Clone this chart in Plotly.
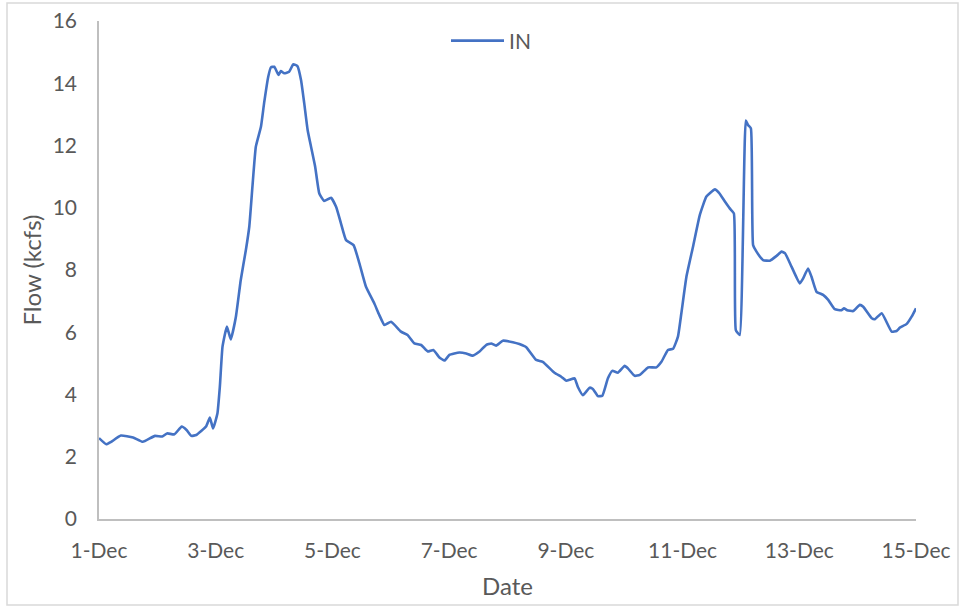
import datetime as dt
import plotly.graph_objects as go

# hours since 1-Dec 00:00 and flow (kcfs)
hours = [0, 3, 5, 9, 14, 18, 23, 26, 28, 31, 34, 36, 38, 40, 44, 45.6, 46.9, 48.7, 49.7, 50.8,
         52.6, 54.2, 56.3, 58.3, 60.4, 61.8, 63.1, 64.5, 66.6, 67.9, 69.6, 70.7, 72.1, 73.8, 74.8,
         76.2, 78.2, 79.9, 81.6, 83.1, 84.4, 85.8, 87.2, 88.9, 90.6, 92.6, 95.4, 97.5, 99.5, 101.6,
         104.7, 107.1, 109.8, 113.2, 115.3, 117.4, 120.1, 124.2, 126.9, 129.7, 132.5, 135.2, 137.5,
         140.0, 142.1, 144.1, 148.2, 151.0, 153.7, 156.5, 159.2, 161.3, 163.3, 166.1, 170.2, 172.9,
         175.7, 179.8, 182.5, 187.3, 190.1, 192.2, 193.5, 195.6, 196.9, 199.0, 201.8, 203.1, 205.2,
         207.0, 209.3, 211.1, 213.4, 216.2, 217.5, 220.3, 222.4, 225.8, 229.2, 231.3, 234.0, 236.1,
         238.1, 239.5, 241.6, 244.3, 247.1, 249.8, 253.3, 255.0, 257.4, 259.4, 261.1, 261.9, 263.5,
         266.0, 266.9, 268.1, 269.0, 270.4, 273.1, 275.9, 278.6, 280.7, 282.1, 284.8, 288.2, 289.6,
         291.6, 293.0, 295.1, 297.8, 299.9, 302.6, 305.4, 306.4, 307.7, 310.2, 312.9, 314.3, 317.8,
         319.1, 321.9, 326.0, 328.0, 329.4, 332.2, 334.2, 336.0]
flow_in = [2.60, 2.40, 2.48, 2.68, 2.62, 2.48, 2.67, 2.65, 2.75, 2.72, 2.97, 2.86, 2.67, 2.70, 2.97,
           3.26, 2.91, 3.39, 4.25, 5.54, 6.18, 5.77, 6.50, 7.68, 8.64, 9.39, 10.68, 11.96, 12.60,
           13.36, 14.21, 14.51, 14.53, 14.27, 14.39, 14.32, 14.37, 14.61, 14.55, 14.10, 13.36, 12.50,
           11.96, 11.32, 10.46, 10.22, 10.32, 10.03, 9.50, 8.96, 8.80, 8.21, 7.46, 6.93, 6.55, 6.23,
           6.34, 6.02, 5.91, 5.64, 5.59, 5.38, 5.43, 5.19, 5.09, 5.27, 5.35, 5.32, 5.25, 5.38, 5.59,
           5.64, 5.57, 5.73, 5.68, 5.62, 5.52, 5.11, 5.05, 4.70, 4.57, 4.44, 4.47, 4.52, 4.25, 3.98,
           4.22, 4.18, 3.95, 3.96, 4.52, 4.76, 4.70, 4.92, 4.84, 4.60, 4.63, 4.87, 4.87, 5.05, 5.43,
           5.47, 5.86, 6.61, 7.79, 8.75, 9.77, 10.36, 10.59, 10.48, 10.20, 9.98, 9.82, 6.07, 5.91,
           12.80, 12.66, 12.55, 8.80, 8.59, 8.32, 8.30, 8.45, 8.59, 8.54, 8.11, 7.57, 7.73, 8.05,
           7.79, 7.30, 7.20, 7.04, 6.74, 6.71, 6.77, 6.71, 6.68, 6.88, 6.82, 6.45, 6.42, 6.61, 6.02,
           6.04, 6.15, 6.27, 6.50, 6.77]

tick_days = [1, 3, 5, 7, 9, 11, 13, 15]
tick_labels = [f"{d}-Dec" for d in tick_days]
y_ticks = [0, 2, 4, 6, 8, 10, 12, 14, 16]

base = dt.datetime(2021, 12, 1)
times = [base + dt.timedelta(hours=h) for h in hours]
tick_vals = [dt.datetime(2021, 12, d) for d in tick_days]

FONT = "Lato, 'Open Sans', sans-serif"
GREY = "#595959"

fig = go.Figure()
fig.add_trace(go.Scatter(x=times, y=flow_in, mode="lines", name="IN",
                         line=dict(color="#4472C4", width=2.6, shape="spline", smoothing=0.4)))

W, H = 960, 608
L, R, T, B = 99, 44, 21, 89
pw, ph = W - L - R, H - T - B

def px(x):
    return (x - L) / pw

def py(y):
    return (H - B - y) / ph

fig.update_layout(
    width=W, height=H,
    margin=dict(l=L, r=R, t=T, b=B, autoexpand=False),
    paper_bgcolor="white", plot_bgcolor="white",
    font=dict(family=FONT, color=GREY, size=21),
    showlegend=True,
    legend=dict(orientation="h", x=px(446), y=py(41), xanchor="left", yanchor="middle",
                itemwidth=53, font=dict(size=21, color=GREY), bgcolor="rgba(0,0,0,0)"),
    xaxis=dict(type="date", range=[base, dt.datetime(2021, 12, 15)], automargin=False,
               tickvals=tick_vals, ticktext=tick_labels, showgrid=False, zeroline=False,
               showline=True, linecolor="#BFBFBF", linewidth=1.5, ticks="",
               ticklabelstandoff=12, tickfont=dict(size=21, color=GREY),
               title=dict(text="Date", font=dict(size=24, color=GREY), standoff=17)),
    yaxis=dict(range=[0, 16], tickvals=y_ticks, showgrid=False, zeroline=False, automargin=False,
               showline=True, linecolor="#BFBFBF", linewidth=1.5, ticks="",
               ticklabelstandoff=16, tickfont=dict(size=21, color=GREY),
               title=dict(text="Flow (kcfs)", font=dict(size=24, color=GREY), standoff=4)),
)

fig.add_shape(type="rect", xref="paper", yref="paper",
              x0=px(7), x1=px(958), y0=py(605), y1=py(3),
              line=dict(color="#D9D9D9", width=1.5), fillcolor="rgba(0,0,0,0)", layer="below")

fig.write_html("out.html", config={"displayModeBar": False},
               post_script="document.body.style.margin='0';document.body.style.overflow='hidden';")
